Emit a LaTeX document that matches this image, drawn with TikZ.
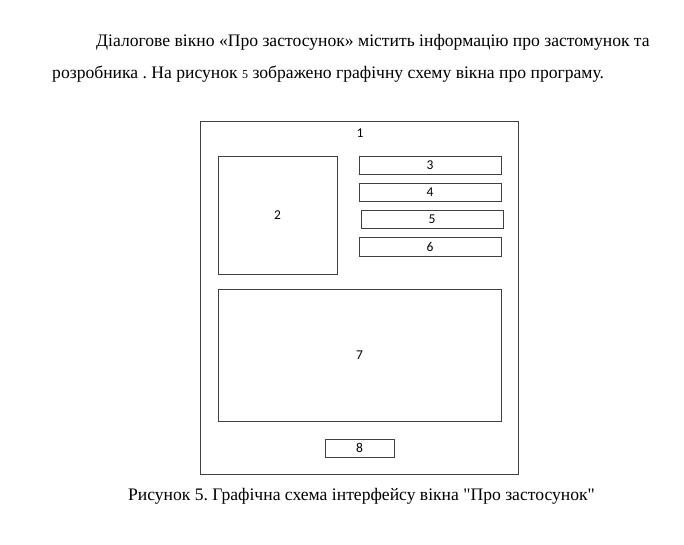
\documentclass[tikz,border=0pt]{standalone}
\usepackage{fontspec}
\setmainfont{Liberation Serif}[Ligatures=TeXOff]
\newfontfamily\boxfont{Carlito}
\frenchspacing
\begin{document}
\begin{tikzpicture}[x=1pt,y=-1pt,
  box/.style={draw=black!75, line width=0.9pt, inner sep=0pt},
  num/.style={font=\boxfont\fontsize{13.5}{15}\selectfont},
  txt/.style={font=\fontsize{17.6}{20}\selectfont, inner sep=0pt}]
\useasboundingbox (0,0) rectangle (684,544);
\node[txt, anchor=base west] (para1) at (96,46) {Діалогове вікно «Про застосунок» містить інформацію про застомунок та};
\node[txt, anchor=base west] (para2) at (52,78) {розробника . На рисунок {\fontsize{12}{13}\selectfont 5} зображено графічну схему вікна про програму.};
% window
\node[box, minimum width=318pt, minimum height=353pt] (win) at (359,297.5) {};
\node[num] (winnum) at (360,133) {1};
\node[box, num, minimum width=119pt, minimum height=118pt] (logo) at (277.5,215) {2};
\node[box, num, minimum width=142pt, minimum height=18pt] (name) at (430,165) {3};
\node[box, num, minimum width=142pt, minimum height=18pt] (version) at (430,192) {4};
\node[box, num, minimum width=142pt, minimum height=18pt] (author) at (432,219) {5};
\node[box, num, minimum width=142pt, minimum height=19pt] (contact) at (430,246.5) {6};
\node[box, num, minimum width=283pt, minimum height=132pt] (info) at (359.5,355) {7};
\node[box, num, minimum width=69pt, minimum height=18pt] (ok) at (359.5,448) {8};
\node[txt, anchor=base] (caption) at (361.5,500) {Рисунок 5. Графічна схема інтерфейсу вікна "Про застосунок"};
\end{tikzpicture}
\end{document}
